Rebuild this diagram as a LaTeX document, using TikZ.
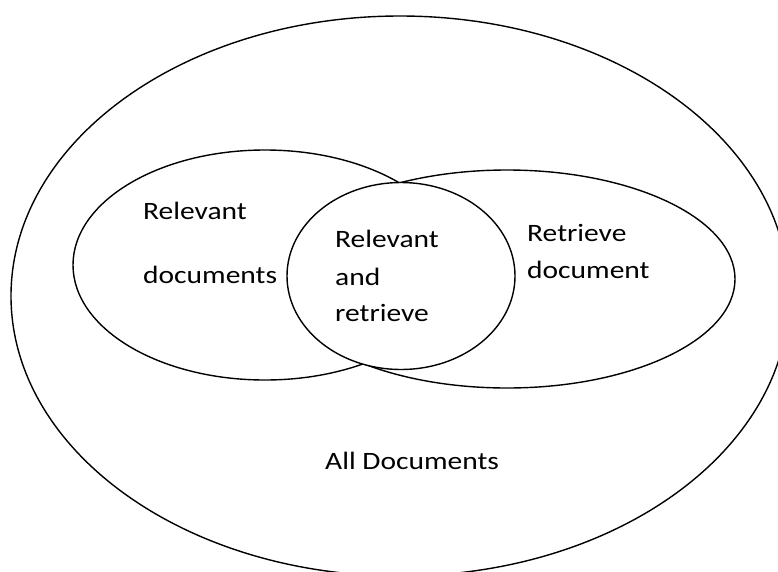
\documentclass[tikz,border=0pt]{standalone}
\usepackage{fontspec}
\setmainfont{Carlito}[FakeStretch=1.18]
\usetikzlibrary{shapes.geometric}
\begin{document}
\begin{tikzpicture}[x=1pt,y=-1pt,
  set/.style={ellipse,draw,fill=white,line width=1.4pt,inner sep=0pt},
  lbl/.style={anchor=base west,inner sep=0pt,font=\fontsize{25}{30}\selectfont}]
\useasboundingbox (0,0) rectangle (778,571);
\clip (0,0) rectangle (778,571);
\node[set,minimum width=778pt,minimum height=560pt] (all) at (400,296) {};
\node[set,minimum width=456pt,minimum height=218pt] (ret) at (507,279) {};
\node[set,minimum width=384pt,minimum height=230pt] (rel) at (265,265) {};
\node[set,minimum width=228pt,minimum height=187pt] (both) at (401,276) {};
\node[lbl] (rel1) at (143,219) {Relevant};
\node[lbl] (rel2) at (143,283) {documents};
\node[lbl] (both1) at (335,247) {Relevant};
\node[lbl] (both2) at (335,285) {and};
\node[lbl] (both3) at (335,321) {retrieve};
\node[lbl] (ret1) at (527,241.5) {Retrieve};
\node[lbl] (ret2) at (527,278) {document};
\node[lbl] (alld) at (325,469) {All Documents};
\end{tikzpicture}
\end{document}
